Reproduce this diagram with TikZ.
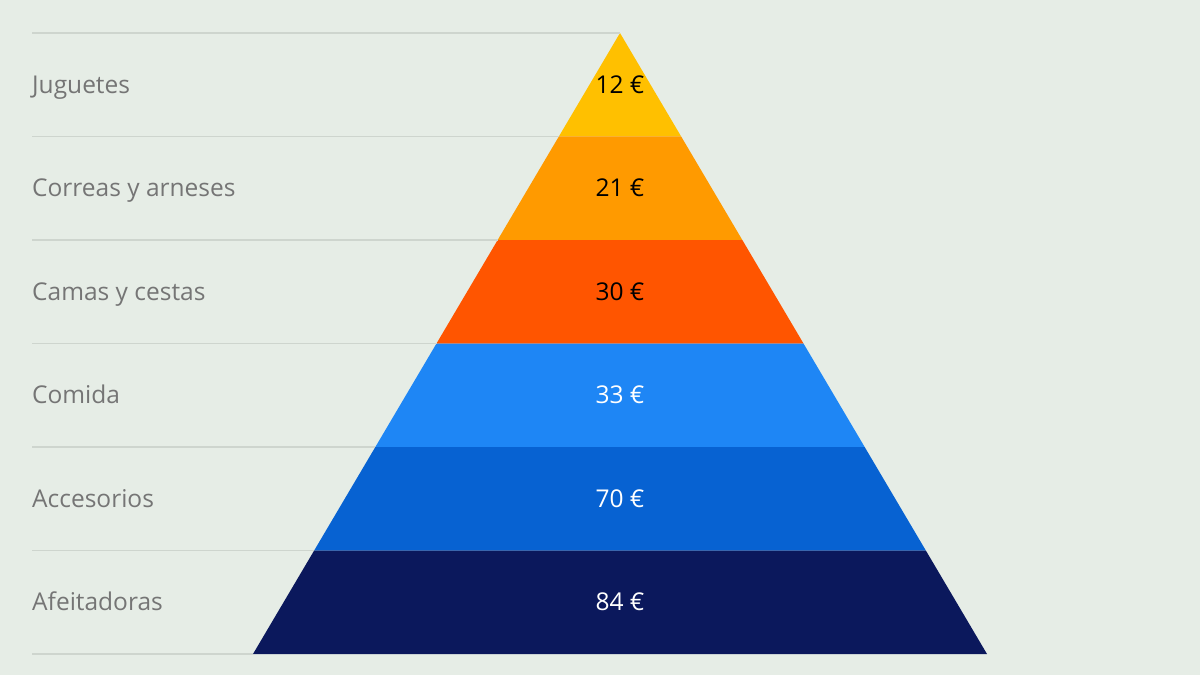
\documentclass[tikz,border=0pt]{standalone}
\usepackage{fontspec}
\setmainfont{Open Sans}
\usetikzlibrary{calc}
\definecolor{bg}{HTML}{E6EDE6}
\definecolor{rule}{HTML}{CED5CE}
\definecolor{lab}{HTML}{757575}
\definecolor{c1}{HTML}{FFC000}
\definecolor{c2}{HTML}{FF9A00}
\definecolor{c3}{HTML}{FF5500}
\definecolor{c4}{HTML}{1E86F5}
\definecolor{c5}{HTML}{0762D2}
\definecolor{c6}{HTML}{0B185C}
\tikzset{
  rulel/.style={draw=rule, line width=1.2pt},
  catlabel/.style={anchor=base west, text=lab, font=\fontsize{24.5}{28}\selectfont, inner sep=0pt},
  vallabel/.style={anchor=base, font=\fontsize{24.5}{28}\selectfont, inner sep=0pt},
}
\begin{document}
\begin{tikzpicture}[x=1pt,y=-1pt]
\fill[bg] (0,0) rectangle (1200,675);
\useasboundingbox (0,0) rectangle (1200,675);
\coordinate (A) at (620,33);
\coordinate (BL) at (253,654);
\coordinate (BR) at (987,654);
\foreach \k in {0,...,6}{
  \coordinate (L\k) at ($(A)!\k/6!(BL)$);
  \coordinate (R\k) at ($(A)!\k/6!(BR)$);
  \coordinate (M\k) at (32,0 |- L\k);
}
% bands
\fill[c1] (L0) -- (L1) -- (R1) -- cycle;
\fill[c2] (L1) -- (L2) -- (R2) -- (R1) -- cycle;
\fill[c3] (L2) -- (L3) -- (R3) -- (R2) -- cycle;
\fill[c4] (L3) -- (L4) -- (R4) -- (R3) -- cycle;
\fill[c5] (L4) -- (L5) -- (R5) -- (R4) -- cycle;
\fill[c6] (L5) -- (L6) -- (R6) -- (R5) -- cycle;
% rules
\foreach \k in {0,...,6}{
  \draw[rulel] (M\k) -- (L\k);
}
% category labels
\node[catlabel] (n1) at ($(M0)!0.5!(M1)+(0,8.5)$) {Juguetes};
\node[catlabel] (n2) at ($(M1)!0.5!(M2)+(0,8.5)$) {Correas y arneses};
\node[catlabel] (n3) at ($(M2)!0.5!(M3)+(0,8.5)$) {Camas y cestas};
\node[catlabel] (n4) at ($(M3)!0.5!(M4)+(0,8.5)$) {Comida};
\node[catlabel] (n5) at ($(M4)!0.5!(M5)+(0,8.5)$) {Accesorios};
\node[catlabel] (n6) at ($(M5)!0.5!(M6)+(0,8.5)$) {Afeitadoras};
% values
\node[vallabel, text=black] (v1) at ($(620,0 |- M0)!0.5!(620,0 |- M1)+(0,8.5)$) {12 €};
\node[vallabel, text=black] (v2) at ($(620,0 |- M1)!0.5!(620,0 |- M2)+(0,8.5)$) {21 €};
\node[vallabel, text=black] (v3) at ($(620,0 |- M2)!0.5!(620,0 |- M3)+(0,8.5)$) {30 €};
\node[vallabel, text=white] (v4) at ($(620,0 |- M3)!0.5!(620,0 |- M4)+(0,8.5)$) {33 €};
\node[vallabel, text=white] (v5) at ($(620,0 |- M4)!0.5!(620,0 |- M5)+(0,8.5)$) {70 €};
\node[vallabel, text=white] (v6) at ($(620,0 |- M5)!0.5!(620,0 |- M6)+(0,8.5)$) {84 €};
\end{tikzpicture}
\end{document}
